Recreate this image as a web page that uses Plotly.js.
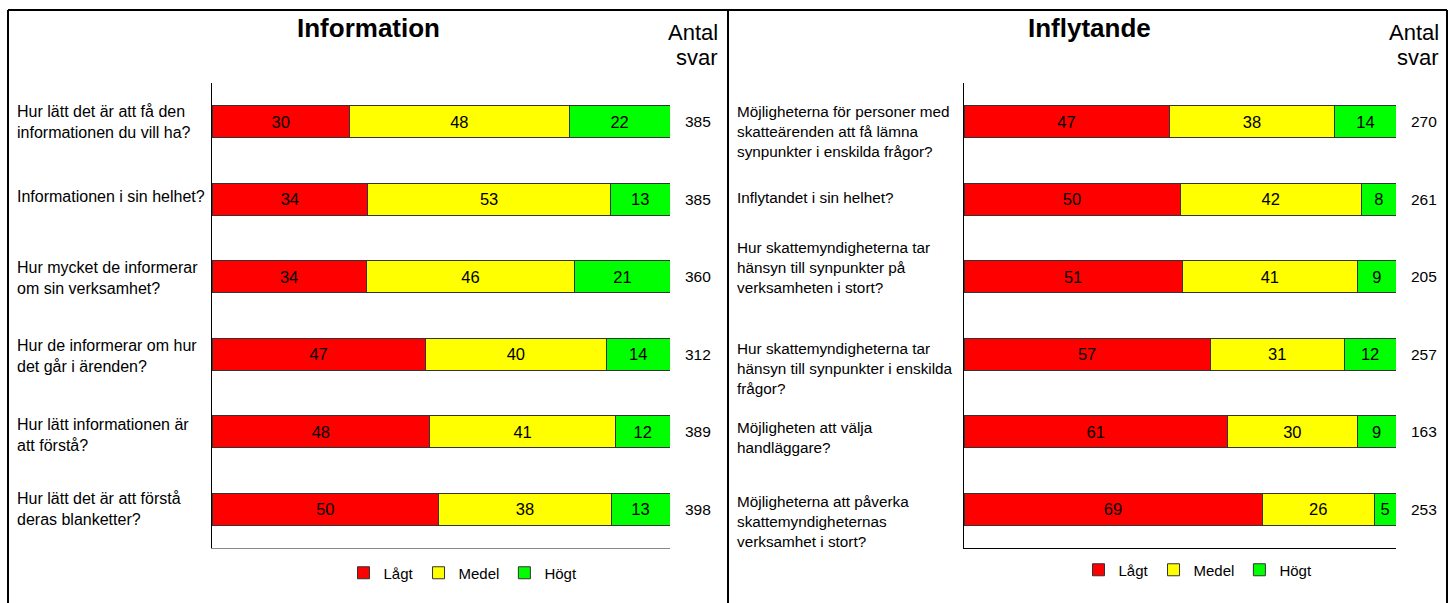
<!DOCTYPE html>
<html><head><meta charset="utf-8">
<script src="https://cdn.plot.ly/plotly-3.0.1.min.js"></script>
<style>html,body{margin:0;padding:0;background:#fff}</style>
</head><body><div id="chart" style="width:1455px;height:603px"></div>
<script>
// ---- data ----
const infoCategories = [
  "Hur lätt det är att få den<br>informationen du vill ha?",
  "Informationen i sin helhet?",
  "Hur mycket de informerar<br>om sin verksamhet?",
  "Hur de informerar om hur<br>det går i ärenden?",
  "Hur lätt informationen är<br>att förstå?",
  "Hur lätt det är att förstå<br>deras blanketter?"
];
const infoLagt  = [30, 34, 34, 47, 48, 50];
const infoMedel = [48, 53, 46, 40, 41, 38];
const infoHogt  = [22, 13, 21, 14, 12, 13];
const infoAntal = [385, 385, 360, 312, 389, 398];

const inflCategories = [
  "Möjligheterna för personer med<br>skatteärenden att få lämna<br>synpunkter i enskilda frågor?",
  "Inflytandet i sin helhet?",
  "Hur skattemyndigheterna tar<br>hänsyn till synpunkter på<br>verksamheten i stort?",
  "Hur skattemyndigheterna tar<br>hänsyn till synpunkter i enskilda<br>frågor?",
  "Möjligheten att välja<br>handläggare?",
  "Möjligheterna att påverka<br>skattemyndigheternas<br>verksamhet i stort?"
];
const inflLagt  = [47, 50, 51, 57, 61, 69];
const inflMedel = [38, 42, 41, 31, 30, 26];
const inflHogt  = [14, 8, 9, 12, 9, 5];
const inflAntal = [270, 261, 205, 257, 163, 253];

const seriesNames = ["Lågt", "Medel", "Högt"];
const panelTitles = ["Information", "Inflytande"];
const antalLabel = ["Antal", "svar"];

// ---- styling ----
const W = 1455, H = 603;
const FONT = '"Liberation Sans", Arial, sans-serif';
const colors = ["#FF0000", "#FFFF00", "#00FF00"];
const px = v => v / W;
const py = v => 1 - v / H;
// vertical nudges (px) of the category labels, to mimic the original layout
const infoLabelShift = [0, 3, -1, -2, -3, 0];
const inflLabelShift = [-10, 2, 9, -14, -6, -12];

function barTrace(cats, vals, i, xa, ya, leg) {
  return {
    type: 'bar', orientation: 'h', name: seriesNames[i],
    x: vals, y: cats, xaxis: xa, yaxis: ya, legend: leg,
    text: vals.map(String), texttemplate: '%{text}', textposition: 'inside',
    insidetextanchor: 'middle', textangle: 0, constraintext: 'none',
    textfont: {family: FONT, size: 16.5, color: '#000'},
    marker: {color: colors[i], line: {color: '#333', width: 1}},
    hoverinfo: 'skip'
  };
}

const traces = [];
[infoLagt, infoMedel, infoHogt].forEach((v, i) => traces.push(barTrace(infoCategories, v, i, 'x', 'y', 'legend')));
[inflLagt, inflMedel, inflHogt].forEach((v, i) => traces.push(barTrace(inflCategories, v, i, 'x2', 'y2', 'legend2')));

const ydom = [py(548), py(83)];
const annotations = [];
function panelAnnotations(cats, antal, shifts, ya, labelX, labelSize, countX, titleX, antalX, title) {
  cats.forEach((c, i) => {
    annotations.push({xref: 'paper', yref: ya, x: px(labelX), y: c, text: c, showarrow: false,
      xanchor: 'left', yanchor: 'middle', align: 'left', yshift: shifts[i],
      font: {family: FONT, size: labelSize, color: '#000'}});
    annotations.push({xref: 'paper', yref: ya, x: px(countX), y: c, text: String(antal[i]), showarrow: false,
      xanchor: 'center', yanchor: 'middle', font: {family: FONT, size: 15.5, color: '#000'}});
  });
  annotations.push({xref: 'paper', yref: 'paper', x: px(titleX), y: py(28), text: '<b>' + title + '</b>', showarrow: false,
    xanchor: 'center', yanchor: 'middle', font: {family: FONT, size: 26, color: '#000'}});
  annotations.push({xref: 'paper', yref: 'paper', x: px(antalX), y: py(33), text: antalLabel[0], showarrow: false,
    xanchor: 'right', yanchor: 'middle', font: {family: FONT, size: 22, color: '#000'}});
  annotations.push({xref: 'paper', yref: 'paper', x: px(antalX), y: py(57), text: antalLabel[1], showarrow: false,
    xanchor: 'right', yanchor: 'middle', font: {family: FONT, size: 22, color: '#000'}});
}
panelAnnotations(infoCategories, infoAntal, infoLabelShift, 'y', 15, 16, 698, 368, 720, panelTitles[0]);
panelAnnotations(inflCategories, inflAntal, inflLabelShift, 'y2', 735, 15.3, 1424, 1089, 1441, panelTitles[1]);

const borderTop = py(10);
const shapes = [
  {type: 'line', xref: 'paper', yref: 'paper', x0: px(8), x1: px(1447), y0: borderTop, y1: borderTop, line: {color: '#000', width: 2}},
  {type: 'line', xref: 'paper', yref: 'paper', x0: px(8), x1: px(8), y0: 0, y1: borderTop, line: {color: '#000', width: 2}},
  {type: 'line', xref: 'paper', yref: 'paper', x0: px(1447), x1: px(1447), y0: 0, y1: borderTop, line: {color: '#000', width: 2}},
  {type: 'line', xref: 'paper', yref: 'paper', x0: px(728), x1: px(728), y0: 0, y1: borderTop, line: {color: '#000', width: 2}}
];

const xaxisBase = {range: [0, 100], showgrid: false, zeroline: false, showticklabels: false, ticks: '',
  showline: true, fixedrange: true};
const yaxisBase = {type: 'category', autorange: false, range: [5.5, -0.5], showgrid: false, zeroline: false,
  showticklabels: false, ticks: '', showline: true, linecolor: '#000', linewidth: 1, domain: ydom, fixedrange: true};

const legendBase = {orientation: 'h', xanchor: 'center', yanchor: 'middle', bgcolor: 'rgba(0,0,0,0)',
  font: {family: FONT, size: 15, color: '#000'}, itemwidth: 30, traceorder: 'normal', tracegroupgap: 0};

const layout = {
  width: W, height: H, margin: {l: 0, r: 0, t: 0, b: 0},
  paper_bgcolor: '#fff', plot_bgcolor: '#fff',
  barmode: 'stack', barnorm: 'percent', bargap: 0.59,
  showlegend: true,
  xaxis: Object.assign({}, xaxisBase, {domain: [px(212), px(670)], anchor: 'y', linecolor: '#888'}),
  yaxis: Object.assign({}, yaxisBase, {anchor: 'x'}),
  xaxis2: Object.assign({}, xaxisBase, {domain: [px(964), px(1396)], anchor: 'y2', linecolor: '#000'}),
  yaxis2: Object.assign({}, yaxisBase, {anchor: 'x2'}),
  legend: Object.assign({}, legendBase, {x: px(463), y: py(573)}),
  legend2: Object.assign({}, legendBase, {x: px(1198), y: py(570)}),
  annotations: annotations,
  shapes: shapes
};

Plotly.newPlot('chart', traces, layout, {displayModeBar: false, staticPlot: true});
</script></body></html>
